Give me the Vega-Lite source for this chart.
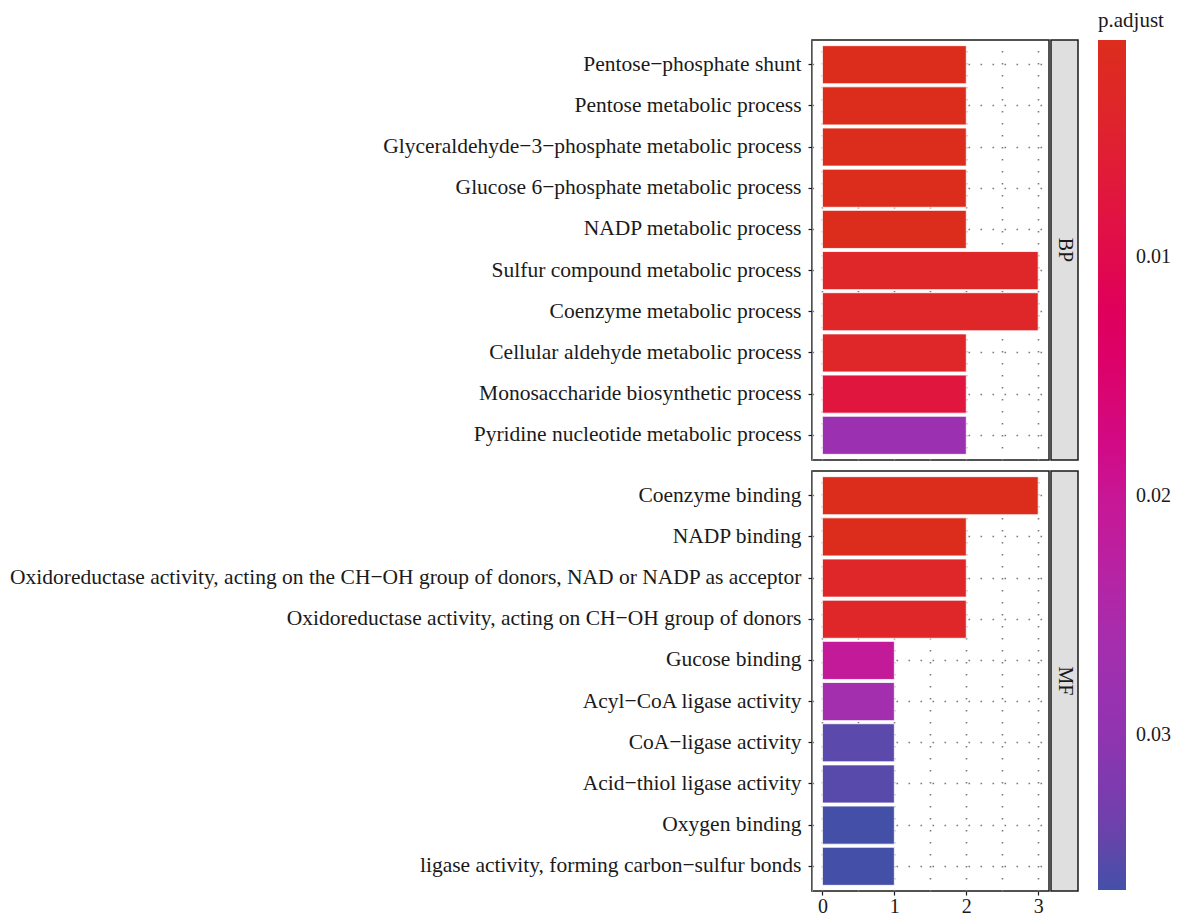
{
  "$schema": "https://vega.github.io/schema/vega-lite/v6.json",
  "padding": {"left": 5, "top": 10, "right": 5, "bottom": 0},
  "background": "white",
  "data": {
    "values": [
      {"ont": "BP", "term": "Pentose−phosphate shunt", "count": 2, "padj": 0.0009},
      {"ont": "BP", "term": "Pentose metabolic process", "count": 2, "padj": 0.0009},
      {"ont": "BP", "term": "Glyceraldehyde−3−phosphate metabolic process", "count": 2, "padj": 0.0009},
      {"ont": "BP", "term": "Glucose 6−phosphate metabolic process", "count": 2, "padj": 0.0009},
      {"ont": "BP", "term": "NADP metabolic process", "count": 2, "padj": 0.0009},
      {"ont": "BP", "term": "Sulfur compound metabolic process", "count": 3, "padj": 0.0035},
      {"ont": "BP", "term": "Coenzyme metabolic process", "count": 3, "padj": 0.0035},
      {"ont": "BP", "term": "Cellular aldehyde metabolic process", "count": 2, "padj": 0.0035},
      {"ont": "BP", "term": "Monosaccharide biosynthetic process", "count": 2, "padj": 0.0075},
      {"ont": "BP", "term": "Pyridine nucleotide metabolic process", "count": 2, "padj": 0.028},
      {"ont": "MF", "term": "Coenzyme binding", "count": 3, "padj": 0.0009},
      {"ont": "MF", "term": "NADP binding", "count": 2, "padj": 0.0009},
      {"ont": "MF", "term": "Oxidoreductase activity, acting on the CH−OH group of donors, NAD or NADP as acceptor", "count": 2, "padj": 0.0035},
      {"ont": "MF", "term": "Oxidoreductase activity, acting on CH−OH group of donors", "count": 2, "padj": 0.0035},
      {"ont": "MF", "term": "Gucose binding", "count": 1, "padj": 0.021},
      {"ont": "MF", "term": "Acyl−CoA ligase activity", "count": 1, "padj": 0.0265},
      {"ont": "MF", "term": "CoA−ligase activity", "count": 1, "padj": 0.035},
      {"ont": "MF", "term": "Acid−thiol ligase activity", "count": 1, "padj": 0.0352},
      {"ont": "MF", "term": "Oxygen binding", "count": 1, "padj": 0.0365},
      {"ont": "MF", "term": "ligase activity, forming carbon−sulfur bonds", "count": 1, "padj": 0.0365}
    ]
  },
  "columns": 2,
  "spacing": {"row": 9, "column": 0},
  "resolve": {"scale": {"color": "shared"}},
  "concat": [
    {
      "transform": [{"filter": "datum.ont === 'BP'"}],
      "width": 237,
      "height": 420,
      "view": {"stroke": "#1a1a1a", "strokeWidth": 1.5},
      "mark": {"type": "bar", "stroke": "white", "strokeWidth": 0.8},
      "encoding": {
        "y": {
          "field": "term", "type": "nominal", "sort": null, "title": null,
          "scale": {"paddingInner": 0.075, "paddingOuter": 0.1375},
          "axis": {"minExtent": 806, "maxExtent": 806}
        },
        "x": {
          "field": "count", "type": "quantitative", "title": null,
          "scale": {"domain": [-0.145, 3.15], "nice": false, "zero": false},
          "axis": {"values": [0, 0.5, 1, 1.5, 2, 2.5, 3], "labels": false, "ticks": false, "domain": false}
        },
        "color": {
          "field": "padj", "type": "quantitative", "title": "p.adjust",
          "scale": {
            "domain": [0.0365, 0.034, 0.031, 0.027, 0.023, 0.019, 0.016, 0.012, 0.01, 0.005, 0.0009],
            "range": ["#4450a8", "#6b42aa", "#8a35b0", "#a030b0", "#b822a2", "#cc1290", "#d80674", "#e0005a", "#e00b4c", "#e0222f", "#dc2d1c"]
          },
          "legend": {
            "orient": "none", "legendX": 286, "legendY": -30,
            "values": [0.01, 0.02, 0.03], "format": ".2f", "direction": "vertical",
            "gradientLength": 850, "gradientThickness": 28,
            "labelOffset": 10, "labelPadding": 10
          }
        }
      }
    },
    {
      "transform": [{"filter": "datum.ont === 'BP'"}, {"aggregate": [], "groupby": ["ont"]}],
      "width": 27,
      "height": 420,
      "view": {"fill": "#e0dfe0", "stroke": "#1a1a1a", "strokeWidth": 1.5},
      "mark": {"type": "text", "angle": 90, "font": "Liberation Serif", "fontSize": 20, "color": "#1a1a1a"},
      "encoding": {
        "y": {"field": "ont", "type": "nominal", "axis": null},
        "text": {"field": "ont"}
      }
    },
    {
      "transform": [{"filter": "datum.ont === 'MF'"}],
      "width": 237,
      "height": 420,
      "view": {"stroke": "#1a1a1a", "strokeWidth": 1.5},
      "mark": {"type": "bar", "stroke": "white", "strokeWidth": 0.8},
      "encoding": {
        "y": {
          "field": "term", "type": "nominal", "sort": null, "title": null,
          "scale": {"paddingInner": 0.075, "paddingOuter": 0.1375},
          "axis": {"minExtent": 806, "maxExtent": 806}
        },
        "x": {
          "field": "count", "type": "quantitative", "title": null,
          "scale": {"domain": [-0.145, 3.15], "nice": false, "zero": false},
          "axis": {
            "values": [0, 0.5, 1, 1.5, 2, 2.5, 3],
            "labelExpr": "datum.value % 1 === 0 ? format(datum.value, 'd') : ''",
            "tickOpacity": {"condition": {"test": "datum.value % 1 !== 0", "value": 0}, "value": 1},
            "tickSize": 4, "labelPadding": 1, "labelFontSize": 20,
            "domain": false
          }
        },
        "color": {"field": "padj", "type": "quantitative"}
      }
    },
    {
      "transform": [{"filter": "datum.ont === 'MF'"}, {"aggregate": [], "groupby": ["ont"]}],
      "width": 27,
      "height": 420,
      "view": {"fill": "#e0dfe0", "stroke": "#1a1a1a", "strokeWidth": 1.5},
      "mark": {"type": "text", "angle": 90, "font": "Liberation Serif", "fontSize": 20, "color": "#1a1a1a"},
      "encoding": {
        "y": {"field": "ont", "type": "nominal", "axis": null},
        "text": {"field": "ont"}
      }
    }
  ],
  "config": {
    "font": "Liberation Serif",
    "axis": {
      "labelFont": "Liberation Serif", "labelFontSize": 21.5, "labelColor": "#1a1a1a",
      "labelLimit": 1000, "labelPadding": 7,
      "tickColor": "#1a1a1a", "tickSize": 4, "tickWidth": 1.2,
      "grid": true, "gridColor": "#7a7a7a", "gridDash": [1.6, 10.4], "gridWidth": 1.6
    },
    "axisY": {"bandPosition": 0.5, "gridDash": [1.6, 10.4]},
    "legend": {
      "titleFont": "Liberation Serif", "titleFontSize": 21, "titleFontWeight": "normal", "titleColor": "#1a1a1a",
      "labelFont": "Liberation Serif", "labelFontSize": 20, "labelColor": "#1a1a1a",
      "titlePadding": 9
    }
  }
}
